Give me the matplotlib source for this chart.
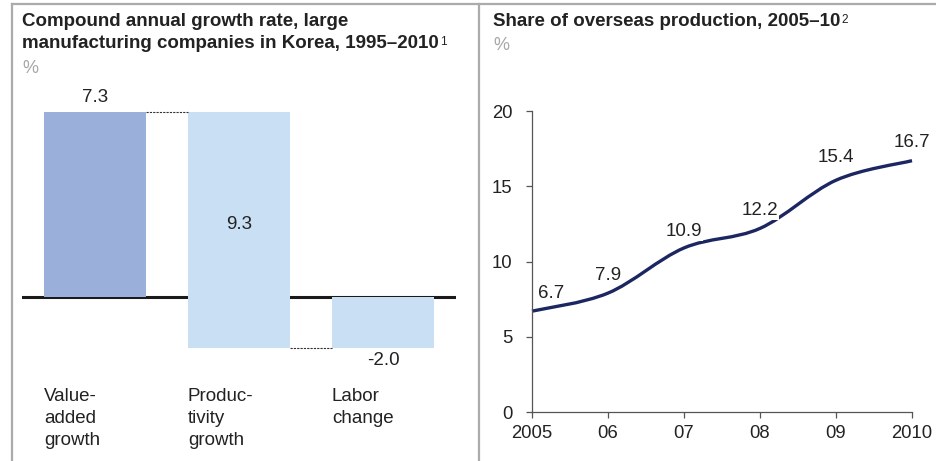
import matplotlib
matplotlib.use("Agg")
import matplotlib.pyplot as plt
from matplotlib.path import Path
from matplotlib.patches import PathPatch
import numpy as np

plt.rcParams['font.family'] = ['Liberation Sans', 'DejaVu Sans']

# 左图：瀑布图数据
bar_cats = ["Value-\nadded\ngrowth", "Produc-\ntivity\ngrowth", "Labor\nchange"]
bar_bottoms = [0.0, -2.0, -2.0]
bar_tops = [7.3, 7.3, 0.0]
bar_labels = ["7.3", "9.3", "-2.0"]
bar_colors = ["#9AAFD9", "#C9DFF3", "#C9DFF3"]

# 右图：海外生产比重
years = [2005, 2006, 2007, 2008, 2009, 2010]
year_labels = ["2005", "06", "07", "08", "09", "2010"]
share = [6.7, 7.9, 10.9, 12.2, 15.4, 16.7]

W, H = 936, 461
fig = plt.figure(figsize=(W / 100, H / 100), dpi=100)
txt = "#222222"

def px_rect(x0, y0, x1, y1):
    # 像素坐标 -> figure 坐标
    return [x0 / W, 1 - y1 / H, (x1 - x0) / W, (y1 - y0) / H]

# 边框
border = "#ABABAB"
fig.add_artist(plt.Line2D([12 / W, 1], [1 - 4 / H] * 2, color=border, lw=1.6))
fig.add_artist(plt.Line2D([12 / W] * 2, [0, 1 - 4 / H], color=border, lw=1.6))
fig.add_artist(plt.Line2D([479 / W] * 2, [0, 1 - 4 / H], color=border, lw=1.6))

# 标题
t1a = fig.text(22 / W, 1 - 22 / H, "Compound annual growth rate, large",
               fontsize=13.5, fontweight='bold', color=txt, va='center', ha='left')
t1b = fig.text(22 / W, 1 - 44 / H, "manufacturing companies in Korea, 1995–2010",
               fontsize=13.5, fontweight='bold', color=txt, va='center', ha='left')
fig.text(22 / W, 1 - 68 / H, "%", fontsize=13, color="#A6A6A6", va='center', ha='left')
t2 = fig.text(493 / W, 1 - 22 / H, "Share of overseas production, 2005–10",
              fontsize=13.5, fontweight='bold', color=txt, va='center', ha='left')
fig.text(493 / W, 1 - 45 / H, "%", fontsize=13, color="#A6A6A6", va='center', ha='left')

# 上标：根据标题实际宽度放置
fig.canvas.draw()
r = fig.canvas.get_renderer()
for t, s in [(t1b, "1"), (t2, "2")]:
    bb = t.get_window_extent(r)
    fig.text((bb.x1 + 1) / W, (bb.y1 - 1) / H, s, fontsize=8.5, color=txt, va='top', ha='left')

# ---- 左图 ----
ax1 = fig.add_axes(px_rect(22, 90, 456, 380))
ax1.set_xlim(-0.507, 2.507)
ax1.set_ylim(-3.28, 8.18)
ax1.axis('off')
bw = 0.71
x = np.arange(len(bar_cats))
heights = [t - b for t, b in zip(bar_tops, bar_bottoms)]
ax1.bar(x, heights, bottom=bar_bottoms, width=bw, color=bar_colors, zorder=2)
ax1.axhline(0, color="#1A1A1A", lw=2.2, zorder=1)
# 连接虚线
ax1.plot([x[0] + bw / 2, x[1] - bw / 2], [bar_tops[0], bar_tops[1]], color="#333333",
         lw=0.8, ls=(0, (2, 1)))
ax1.plot([x[1] + bw / 2, x[2] - bw / 2], [bar_bottoms[1], bar_bottoms[2]], color="#333333",
         lw=0.8, ls=(0, (2, 1)))
# 数值标签
ax1.text(x[0], bar_tops[0] + 0.6, bar_labels[0], ha='center', va='center', fontsize=13.5, color=txt)
ax1.text(x[1], (bar_tops[1] + bar_bottoms[1]) / 2 + 0.2, bar_labels[1], ha='center', va='center',
         fontsize=13.5, color=txt)
ax1.text(x[2], bar_bottoms[2] - 0.5, bar_labels[2], ha='center', va='center', fontsize=13.5, color=txt)
for i, c in enumerate(bar_cats):
    ax1.text(x[i] - bw / 2, -3.58, c, ha='left', va='top', fontsize=13.5, color=txt,
             linespacing=1.4, clip_on=False)

# ---- 右图 ----
ax2 = fig.add_axes(px_rect(532, 111, 912, 412))
ax2.set_xlim(years[0], years[-1])
ax2.set_ylim(0, 20)
for s in ['top', 'right']:
    ax2.spines[s].set_visible(False)
for s in ['left', 'bottom']:
    ax2.spines[s].set_color("#555555")
    ax2.spines[s].set_linewidth(0.9)
ax2.set_xticks(years)
ax2.set_xticklabels(year_labels)
ax2.set_yticks([0, 5, 10, 15, 20])
ax2.tick_params(axis='both', labelsize=13.3, colors="#555555", labelcolor=txt,
                length=4, width=0.9)
ax2.tick_params(axis='y', pad=10)
ax2.tick_params(axis='x', pad=5)

# 平滑曲线（Catmull-Rom 转贝塞尔）
pts = np.column_stack([years, share]).astype(float)
verts = [tuple(pts[0])]
codes = [Path.MOVETO]
n = len(pts)
for i in range(n - 1):
    p0 = pts[i - 1] if i > 0 else pts[i]
    p1 = pts[i]
    p2 = pts[i + 1]
    p3 = pts[i + 2] if i + 2 < n else pts[i + 1]
    c1 = p1 + (p2 - p0) / 6
    c2 = p2 - (p3 - p1) / 6
    verts += [tuple(c1), tuple(c2), tuple(p2)]
    codes += [Path.CURVE4] * 3
ax2.add_patch(PathPatch(Path(verts, codes), facecolor='none', edgecolor="#1C2660",
                        lw=2.4, capstyle='butt', zorder=2, clip_on=False))

label_dx = [0.25, 0.0, 0.0, 0.0, 0.0, 0.0]
label_dy = [1.2, 1.2, 1.1, 1.2, 1.5, 1.2]
for i, (yr, v) in enumerate(zip(years, share)):
    ax2.text(yr + label_dx[i], v + label_dy[i], f"{v:.1f}", ha='center', va='center', fontsize=13.5,
             color=txt, zorder=3, clip_on=False,
             bbox=dict(facecolor='white', edgecolor='none', pad=0.5))

fig.savefig("out.png", dpi=100)
